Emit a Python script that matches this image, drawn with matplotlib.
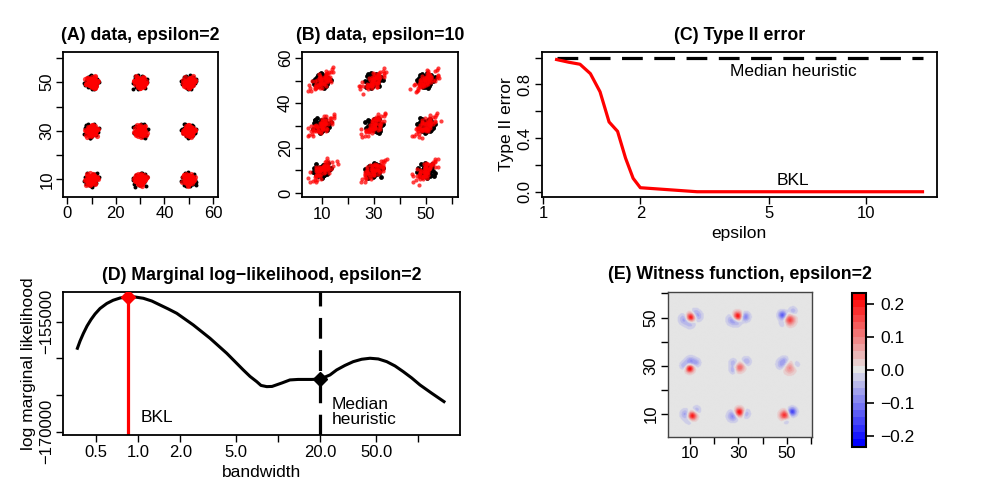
import numpy as np
import matplotlib.pyplot as plt
from matplotlib.colors import LinearSegmentedColormap

plt.rcParams['font.family'] = ['Liberation Sans', 'DejaVu Sans']
plt.rcParams['font.size'] = 12

# ---- data ----
# cluster centres of the 3x3 grid (panels A, B)
centre_x = [10, 30, 50, 10, 30, 50, 10, 30, 50]
centre_y = [50, 50, 50, 30, 30, 30, 10, 10, 10]
flip_x = [1, -1, 1, -1, 1, -1, 1, -1, 1]
flip_y = [1, 1, -1, -1, 1, 1, -1, -1, 1]

# hand-typed cloud shape (unit spread), reused for every cluster
unit_dx = [0.12, -0.85, 1.31, -0.44, 0.67, -1.52, 0.28, 1.05, -0.21, -1.08,
           0.93, 0.41, -0.66, 1.74, -0.05, -1.27, 0.58, -0.37, 1.18, -0.92,
           0.33, -1.89, 0.79, 0.02, -0.54, 1.46, -0.13, 0.87, -1.21, 0.49,
           2.15, -0.71, 0.16, -0.31, 1.02, -2.05, 0.64, -0.98, 0.25, 1.61,
           -0.47, -1.43, 0.95, 0.07, -0.79, 1.27, -0.18, 0.51, -1.66, 2.41,
           -0.26, 0.83, -1.12, 0.38, -0.58, 1.88, -2.32, 0.71, -0.09, 0.19]
unit_dy = [-0.34, 0.56, 0.21, -1.12, 0.97, -0.28, 1.44, -0.73, 0.08, -0.91,
           0.62, -1.55, 1.19, -0.15, 0.37, 0.74, -0.49, 1.86, -1.03, -0.22,
           -0.68, 0.45, 1.31, -2.01, 0.02, -0.57, 0.89, 0.33, 1.08, -1.29,
           0.26, -0.81, 2.12, -0.44, -1.71, -0.95, 0.52, 1.63, -0.07, 0.91,
           -1.38, 0.17, -0.26, 1.02, 0.71, -1.18, -0.62, 1.47, -0.39, 0.12,
           2.27, 0.69, -1.62, -0.83, 1.36, 0.48, -0.21, -2.18, 0.58, -0.11]

# panel C
epsilon = [1.1, 1.2, 1.3, 1.4, 1.5, 1.6, 1.7, 1.8, 1.9, 2.0, 3.0, 5.0, 10.0, 15.0]
err_bkl = [0.985, 0.965, 0.95, 0.88, 0.745, 0.52, 0.45, 0.25, 0.10, 0.03, 0.0, 0.0, 0.0, 0.0]
err_median = [1.0] * len(epsilon)

# panel D
bandwidth = [0.367, 0.3835, 0.4047, 0.4302, 0.4594, 0.4906, 0.5325, 0.595, 0.6597, 0.7403,
             0.849, 0.947, 1.086, 1.247, 1.429, 1.638, 1.88, 2.47, 3.25, 4.28,
             5.62, 6.28, 7.01, 7.52, 8.27, 9.02, 10.63, 12.1, 13.83, 17.4,
             20.0, 23.4, 26.1, 29.9, 34.3, 39.4, 45.2, 51.8, 59.5, 68.2,
             78.1, 89.7, 102.8, 124.7, 152.6]
log_lik = [-158624, -157629, -156608, -155586, -154700, -153951, -153202, -152520, -152084, -151771,
           -151594, -151635, -151812, -152180, -152725, -153270, -153856, -155450, -157262, -159306,
           -161581, -162466, -163175, -163692, -163856, -163828, -163351, -162943, -162875, -162875,
           -162807, -162262, -161581, -160967, -160449, -160123, -159987, -160082, -160449, -161035,
           -161812, -162670, -163624, -164755, -165899]
bkl_bw, bkl_ll = 0.849, -151594
med_bw, med_ll = 20.0, -162807

# panel E: witness function bumps (x, y, amplitude, sd)
wit_x = [10.0, 7.4, 12.9, 9.8, 11.6,
         29.5, 32.6, 27.2, 29.3,
         48.1, 51.1, 52.4, 48.4,
         9.6, 9.9, 7.4, 12.4,
         30.8, 29.6, 27.7, 33.0, 27.7,
         51.0, 47.9, 49.0, 53.6,
         10.6, 7.9, 12.4, 9.4,
         30.2, 27.5, 32.7,
         48.9, 52.1, 49.5]
wit_y = [50.3, 49.5, 50.8, 47.7, 52.4,
         50.8, 50.5, 49.2, 48.2,
         51.2, 49.2, 52.9, 47.9,
         29.0, 31.9, 30.2, 31.4,
         29.8, 28.9, 31.3, 31.9, 28.4,
         29.3, 30.8, 32.4, 30.5,
         9.3, 10.0, 11.7, 7.4,
         10.8, 9.2, 10.2,
         9.6, 11.0, 7.2]
wit_amp = [0.23, -0.07, -0.06, -0.05, -0.04,
           0.23, -0.10, -0.07, -0.04,
           -0.14, 0.16, -0.05, -0.04,
           0.23, -0.08, -0.06, -0.05,
           0.09, 0.06, -0.05, -0.06, -0.06,
           0.09, -0.07, -0.04, -0.04,
           0.22, -0.07, -0.05, -0.04,
           0.23, -0.09, -0.06,
           0.18, -0.16, -0.04]
wit_sd = [1.25, 1.5, 1.4, 1.4, 1.2,
          1.25, 1.3, 1.5, 1.3,
          1.2, 1.5, 1.2, 1.2,
          1.15, 1.4, 1.2, 1.2,
          1.3, 1.2, 1.2, 1.3, 1.1,
          1.7, 1.5, 1.2, 1.2,
          1.25, 1.4, 1.2, 1.2,
          1.25, 1.5, 1.3,
          1.3, 1.2, 1.0]

W, H = 1000, 500


def px_axes(fig, left, top, right, bottom):
    return fig.add_axes([left / W, 1 - bottom / H, (right - left) / W, (bottom - top) / H])


def r_style(ax):
    for s in ax.spines.values():
        s.set_linewidth(1.3)
    ax.tick_params(direction='out', length=5, width=1, pad=2, labelsize=12)
    ax.tick_params(axis='y', labelrotation=90, pad=1.5)
    plt.setp(ax.get_yticklabels(), va='center')


def cluster_points(k, sx, sy, corr=False):
    u = np.array(unit_dx) * flip_x[k]
    v = np.roll(np.array(unit_dy), 7 * k) * flip_y[k]
    if corr:
        a, p = u * sx, v * sy
        return centre_x[k] + 0.707 * (a - p), centre_y[k] + 0.707 * (a + p)
    return centre_x[k] + u * sx, centre_y[k] + v * sy


fig = plt.figure(figsize=(10, 5), dpi=100)
title_kw = dict(fontsize=12.8, fontweight='bold', pad=9)

# (A)
ax = px_axes(fig, 63.3, 52.3, 218, 196.7)
for k in range(9):
    bx, by = cluster_points(k, 1.3, 1.3)
    ax.scatter(bx, by, s=8, color='black', linewidths=0, zorder=2)
for k in range(9):
    j = (k + 4) % 9
    rx, ry = cluster_points(j, 1.1, 1.1)
    rx = rx - centre_x[j] + centre_x[k]
    ry = ry - centre_y[j] + centre_y[k]
    ax.scatter(rx, ry, s=14, color='red', alpha=0.75, linewidths=0, zorder=3)
ax.set_xlim(-1.6, 62)
ax.set_ylim(2.9, 62.3)
ax.set_xticks(range(0, 61, 10), ['0', '', '20', '', '40', '', '60'])
ax.set_yticks(range(10, 61, 10), ['10', '', '30', '', '50', ''])
r_style(ax)
ax.set_title('(A) data, epsilon=2', **title_kw)

# (B)
ax = px_axes(fig, 302, 52, 458, 197)
for k in range(9):
    bx, by = cluster_points(k, 1.45, 1.45)
    ax.scatter(bx, by, s=12, color='black', linewidths=0, zorder=2)
for k in range(9):
    j = (k + 2) % 9
    rx, ry = cluster_points(j, 3.0, 1.25, corr=True)
    rx = rx - centre_x[j] + centre_x[k]
    ry = ry - centre_y[j] + centre_y[k]
    ax.scatter(rx, ry, s=9, color='red', alpha=0.75, linewidths=0, zorder=3)
ax.set_xlim(2.4, 62.4)
ax.set_ylim(-1.8, 62.7)
ax.set_xticks(range(10, 61, 10), ['10', '', '30', '', '50', ''])
ax.set_yticks(range(0, 61, 10), ['0', '', '20', '', '40', '', '60'])
r_style(ax)
ax.set_title('(B) data, epsilon=10', **title_kw)

# (C)
ax = px_axes(fig, 541.7, 52.3, 936.7, 196.7)
ax.set_xscale('log')
ax.plot(epsilon, err_median, color='black', lw=2.3, dashes=(6.5, 3.6), zorder=2)
ax.plot(epsilon, err_bkl, color='red', lw=2.3, zorder=3)
ax.text(5.95, 0.894, 'Median heuristic', ha='center', va='center', fontsize=12.5)
ax.text(5.95, 0.087, 'BKL', ha='center', va='center', fontsize=12.5)
ax.set_xlim(0.989, 16.6)
ax.set_ylim(-0.037, 1.039)
ax.set_xticks([1, 2, 5, 10], ['1', '2', '5', '10'])
ax.minorticks_off()
ax.set_yticks(np.arange(0, 1.01, 0.2), ['0.0', '', '0.4', '', '0.8', ''])
r_style(ax)
ax.set_xlabel('epsilon', fontsize=12.5, labelpad=3)
ax.set_ylabel('Type II error', fontsize=12.5, labelpad=3)
ax.set_title('(C) Type II error', **title_kw)

# (D)
ax = px_axes(fig, 63.3, 292.3, 460, 435)
ax.set_xscale('log')
ylo, yhi = -170450, -150995
ax.plot(bandwidth, log_lik, color='black', lw=2.2, solid_joinstyle='round', zorder=3)
ax.plot([bkl_bw, bkl_bw], [ylo, bkl_ll], color='red', lw=2.3, zorder=2)
ax.plot([med_bw, med_bw], [ylo, yhi], color='black', lw=2.3, dashes=(6.5, 3.6), zorder=2)
ax.plot([bkl_bw], [bkl_ll], marker='D', ms=7, color='red', zorder=4)
ax.plot([med_bw], [med_ll], marker='D', ms=7, color='black', zorder=4)
ax.text(1.35, -168120, 'BKL', ha='center', va='center', fontsize=12.5)
ax.text(24.2, -167262, 'Median\nheuristic', ha='left', va='center', fontsize=12.5,
        linespacing=1.0)
ax.set_xlim(0.291, 198.6)
ax.set_ylim(ylo, yhi)
ax.set_xticks([0.5, 1, 2, 5, 10, 20, 50, 100],
              ['0.5', '1.0', '2.0', '5.0', '', '20.0', '50.0', ''])
ax.minorticks_off()
ax.set_yticks([-170000, -165000, -160000, -155000], ['\u2212170000', '', '', '\u2212155000'])
r_style(ax)
ax.set_xlabel('bandwidth', fontsize=12.5, labelpad=4)
ax.set_ylabel('log marginal likelihood', fontsize=12.5, labelpad=2)
ax.set_title('(D) Marginal log\u2212likelihood, epsilon=2', **title_kw)

# (E)
ax = px_axes(fig, 667.7, 291.7, 812.3, 436.7)
gx, gy = np.meshgrid(np.linspace(0.7, 60.6, 240), np.linspace(0.6, 60.7, 240))
field = np.zeros_like(gx)
for cx, cy, amp, sd in zip(wit_x, wit_y, wit_amp, wit_sd):
    field += amp * np.exp(-((gx - cx) ** 2 + (gy - cy) ** 2) / (2 * sd ** 2))
cmap = LinearSegmentedColormap.from_list('bgr', ['#0000FF', '#E5E5E5', '#FF0000'], N=21)
im = ax.imshow(field, origin='lower', extent=(0.7, 60.6, 0.6, 60.7), cmap=cmap,
               vmin=-0.234, vmax=0.234, aspect='auto', interpolation='bilinear')
ax.set_xlim(0.7, 60.6)
ax.set_ylim(0.6, 60.7)
ax.set_xticks(range(10, 61, 10), ['10', '', '30', '', '50', ''])
ax.set_yticks(range(10, 61, 10), ['10', '', '30', '', '50', ''])
r_style(ax)
for s in ax.spines.values():
    s.set_linewidth(1.0)
    s.set_color('#444444')
ax.set_title('(E) Witness function, epsilon=2', **title_kw)

cax = px_axes(fig, 851.7, 292.7, 866, 446.7)
cb = fig.colorbar(im, cax=cax)
cb.set_ticks([-0.2, -0.1, 0.0, 0.1, 0.2])
cb.set_ticklabels(['\u22120.2', '\u22120.1', '0.0', '0.1', '0.2'])
cb.outline.set_linewidth(1.5)
cax.tick_params(direction='out', length=6, width=1.2, pad=4, labelsize=12.5)

fig.savefig('out.png', dpi=100)
